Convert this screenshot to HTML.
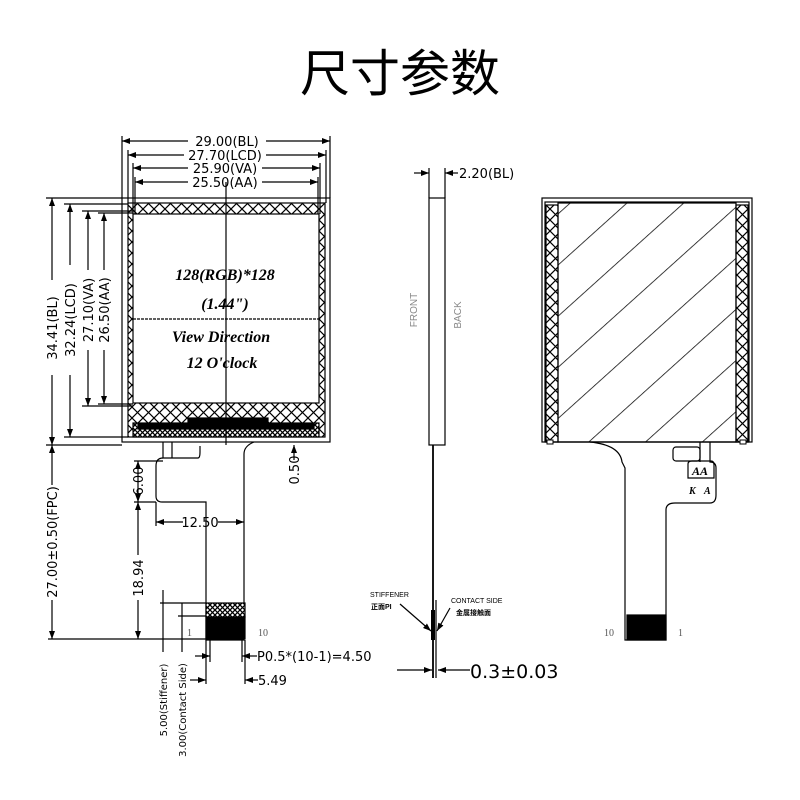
<!DOCTYPE html>
<html><head><meta charset="utf-8"><style>
html,body{margin:0;padding:0;background:#fff;width:800px;height:800px;overflow:hidden}
svg{display:block}
.t{font-family:"DejaVu Sans","Liberation Sans",sans-serif;fill:#000}
.i{font-family:"Liberation Serif",serif;font-style:italic;font-weight:bold;fill:#000}
</style></head><body>
<svg width="800" height="800" viewBox="0 0 800 800" xmlns="http://www.w3.org/2000/svg">
<defs>
<pattern id="x" width="11" height="11" patternUnits="userSpaceOnUse">
<path d="M0 0L11 11M11 0L0 11" stroke="#000" stroke-width="1.2"/></pattern>
<pattern id="xs" width="5" height="5" patternUnits="userSpaceOnUse">
<rect width="5" height="5" fill="#fff"/><path d="M0 0L5 5M5 0L0 5" stroke="#000" stroke-width="1.3"/></pattern>
<pattern id="d" width="38" height="38" patternUnits="userSpaceOnUse" patternTransform="rotate(-42)">
<line x1="0" y1="0" x2="38" y2="0" stroke="#000" stroke-width="1.4"/></pattern>
<marker id="a" markerWidth="8" markerHeight="6" refX="8" refY="3" orient="auto" markerUnits="userSpaceOnUse"><path d="M0 0L8 3L0 6z" fill="#000"/></marker>
<marker id="b" markerWidth="8" markerHeight="6" refX="0" refY="3" orient="auto" markerUnits="userSpaceOnUse"><path d="M8 0L0 3L8 6z" fill="#000"/></marker>
</defs>
<text x="400" y="91" text-anchor="middle" font-family="'Noto Sans CJK SC',sans-serif" font-size="50" font-weight="400">尺寸参数</text>

<g stroke="#000" stroke-width="1.2" fill="none">
<rect x="122" y="198" width="208" height="244"/>
<rect x="128" y="203" width="197" height="234" fill="url(#x)"/>
<rect x="133" y="214" width="186" height="189" fill="#fff"/>
<rect x="133" y="423" width="186" height="14" fill="url(#xs)"/>
<rect x="138" y="424" width="176" height="5" fill="#000"/>
<rect x="188" y="418" width="80" height="4" fill="#000"/>
<line x1="226" y1="182" x2="226" y2="445"/>
<line x1="133" y1="319" x2="319" y2="319" stroke-dasharray="3 1"/>
<line x1="122" y1="136" x2="122" y2="198"/><line x1="330" y1="136" x2="330" y2="198"/>
<line x1="128" y1="150" x2="128" y2="203"/><line x1="326" y1="150" x2="326" y2="203"/>
<line x1="133" y1="163" x2="133" y2="214"/><line x1="320" y1="163" x2="320" y2="214"/>
<line x1="135" y1="177" x2="135" y2="214"/><line x1="318" y1="177" x2="318" y2="214"/>
<line x1="122" y1="141" x2="188" y2="141" marker-start="url(#b)"/><line x1="266" y1="141" x2="330" y2="141" marker-end="url(#a)"/>
<line x1="128" y1="155" x2="184" y2="155" marker-start="url(#b)"/><line x1="266" y1="155" x2="326" y2="155" marker-end="url(#a)"/>
<line x1="133" y1="168" x2="188" y2="168" marker-start="url(#b)"/><line x1="262" y1="168" x2="320" y2="168" marker-end="url(#a)"/>
<line x1="135" y1="182" x2="188" y2="182" marker-start="url(#b)"/><line x1="262" y1="182" x2="318" y2="182" marker-end="url(#a)"/>
<line x1="46" y1="198" x2="122" y2="198"/><line x1="64" y1="204" x2="128" y2="204"/>
<line x1="82" y1="211" x2="133" y2="211"/><line x1="98" y1="213" x2="133" y2="213"/>
<line x1="82" y1="406" x2="133" y2="406"/><line x1="98" y1="404" x2="133" y2="404"/>
<line x1="64" y1="437" x2="128" y2="437"/><line x1="46" y1="445" x2="122" y2="445"/>
<line x1="52" y1="198" x2="52" y2="280" marker-start="url(#b)"/><line x1="52" y1="375" x2="52" y2="445" marker-end="url(#a)"/>
<line x1="70" y1="204" x2="70" y2="265" marker-start="url(#b)"/><line x1="70" y1="375" x2="70" y2="437" marker-end="url(#a)"/>
<line x1="88" y1="211" x2="88" y2="270" marker-start="url(#b)"/><line x1="88" y1="350" x2="88" y2="406" marker-end="url(#a)"/>
<line x1="104" y1="213" x2="104" y2="270" marker-start="url(#b)"/><line x1="104" y1="350" x2="104" y2="404" marker-end="url(#a)"/>
<path d="M163 442V458H198Q200 458 200 452V446" />
<line x1="172" y1="442" x2="172" y2="458"/>
<path d="M163 458Q156 458 156 466V496Q156 502 162 502H206V640H244V454Q244 446 254 442"/>
<rect x="206" y="603" width="39" height="14" fill="url(#xs)"/>
<rect x="206" y="617" width="39" height="22" fill="#000"/>
<line x1="48" y1="639" x2="206" y2="639"/>
<line x1="52" y1="445" x2="52" y2="485" marker-start="url(#b)"/><line x1="52" y1="600" x2="52" y2="639" marker-end="url(#a)"/>
<line x1="134" y1="461" x2="163" y2="461"/>
<line x1="138" y1="461" x2="138" y2="502" marker-start="url(#b)" marker-end="url(#a)"/>
<line x1="134" y1="502" x2="156" y2="502"/>
<line x1="138" y1="502" x2="138" y2="555" marker-start="url(#b)"/><line x1="138" y1="600" x2="138" y2="639" marker-end="url(#a)"/>
<line x1="156" y1="502" x2="156" y2="526"/>
<line x1="156" y1="522" x2="183" y2="522" marker-start="url(#b)"/><line x1="218" y1="522" x2="244" y2="522" marker-end="url(#a)"/>
<line x1="294" y1="445" x2="294" y2="460" marker-start="url(#b)"/>
<line x1="160" y1="603" x2="206" y2="603"/><line x1="178" y1="616" x2="206" y2="616"/>
<line x1="163" y1="590" x2="163" y2="652"/><line x1="182" y1="603" x2="182" y2="652"/>
<line x1="210" y1="640" x2="210" y2="662"/><line x1="242" y1="640" x2="242" y2="662"/>
<line x1="195" y1="656" x2="210" y2="656" marker-end="url(#a)"/><line x1="242" y1="656" x2="257" y2="656" marker-start="url(#b)"/>
<line x1="206" y1="640" x2="206" y2="684"/><line x1="245" y1="640" x2="245" y2="684"/>
<line x1="190" y1="680" x2="206" y2="680" marker-end="url(#a)"/><line x1="245" y1="680" x2="258" y2="680" marker-start="url(#b)"/>
<rect x="429" y="198" width="16" height="247"/>
<line x1="429" y1="168" x2="429" y2="198"/><line x1="445" y1="168" x2="445" y2="198"/>
<line x1="414" y1="173" x2="429" y2="173" marker-end="url(#a)"/><line x1="445" y1="173" x2="458" y2="173" marker-start="url(#b)"/>
<line x1="433" y1="445" x2="433" y2="678" stroke-width="1.8"/>
<line x1="436" y1="600" x2="436" y2="678"/>
<line x1="433" y1="610" x2="433" y2="640" stroke-width="4"/>
<line x1="397" y1="670" x2="432" y2="670" marker-end="url(#a)"/><line x1="438" y1="670" x2="470" y2="670" marker-start="url(#b)"/>
<line x1="400" y1="604" x2="431" y2="631" marker-end="url(#a)"/>
<line x1="450" y1="608" x2="437" y2="631" marker-end="url(#a)"/>
<rect x="542" y="198" width="210" height="244"/>
<rect x="545" y="202" width="204" height="240"/>
<rect x="546" y="205" width="12" height="237" fill="url(#x)"/>
<rect x="736" y="205" width="12" height="237" fill="url(#x)"/>
<rect x="558" y="203" width="178" height="239" fill="url(#d)"/>
<path d="M590 442Q620 445 622 462L625 468V640H666V510Q666 503 675 503H710Q716 503 716 495V468Q716 462 710 462V442"/>
<line x1="700" y1="442" x2="700" y2="462"/>
<rect x="673" y="447" width="27" height="14" rx="3"/>
<path d="M688 478V464Q688 461 692 461H711Q714 461 714 465V478Z"/>
<rect x="627" y="615" width="39" height="25" fill="#000"/>
</g>
<rect x="547" y="440" width="6" height="4" fill="#fff" stroke="#000"/>
<rect x="740" y="440" width="6" height="4" fill="#fff" stroke="#000"/>
<g class="t" font-size="13">
<text x="227" y="146" text-anchor="middle">29.00(BL)</text>
<text x="225" y="160" text-anchor="middle">27.70(LCD)</text>
<text x="225" y="173" text-anchor="middle">25.90(VA)</text>
<text x="225" y="187" text-anchor="middle">25.50(AA)</text>
<text transform="translate(57,328) rotate(-90)" text-anchor="middle">34.41(BL)</text>
<text transform="translate(75,320) rotate(-90)" text-anchor="middle">32.24(LCD)</text>
<text transform="translate(93,310) rotate(-90)" text-anchor="middle">27.10(VA)</text>
<text transform="translate(109,310) rotate(-90)" text-anchor="middle">26.50(AA)</text>
<text transform="translate(57,542) rotate(-90)" text-anchor="middle">27.00±0.50(FPC)</text>
<text transform="translate(143,481) rotate(-90)" text-anchor="middle">6.00</text>
<text transform="translate(143,578) rotate(-90)" text-anchor="middle">18.94</text>
<text transform="translate(299,470) rotate(-90)" text-anchor="middle">0.50</text>
<text x="200" y="527" text-anchor="middle">12.50</text>
<text x="257" y="661">P0.5*(10-1)=4.50</text>
<text x="258" y="685">5.49</text>
<text x="459" y="178">2.20(BL)</text>
</g>
<g class="t" font-size="10">
<text transform="translate(167,700) rotate(-90)" text-anchor="middle">5.00(Stiffener)</text>
<text transform="translate(186,710) rotate(-90)" text-anchor="middle">3.00(Contact Side)</text>
</g>
<text x="470" y="678" class="t" font-size="19">0.3±0.03</text>
<g font-family="'Liberation Sans',sans-serif" font-size="10" fill="#888">
<text transform="translate(417,310) rotate(-90)" text-anchor="middle">FRONT</text>
<text transform="translate(461,315) rotate(-90)" text-anchor="middle">BACK</text>
</g>
<g font-family="'Liberation Sans','Noto Sans CJK SC',sans-serif" font-size="7" fill="#000">
<text x="370" y="597">STIFFENER</text>
<text x="371" y="609" font-weight="bold">正面PI</text>
<text x="451" y="603">CONTACT SIDE</text>
<text x="456" y="615" font-weight="bold">金属接触面</text>
</g>
<g font-family="'Liberation Serif',serif" font-size="10" fill="#555">
<text x="187" y="636">1</text><text x="258" y="636">10</text>
<text x="604" y="636">10</text><text x="678" y="636">1</text>
</g>
<g class="i" font-size="10"><text x="689" y="494">K</text><text x="704" y="494">A</text>
<text x="692" y="475" font-size="12">AA</text></g>
<g class="i" font-size="16" text-anchor="middle">
<text x="225" y="280">128(RGB)*128</text>
<text x="225" y="309">(1.44")</text>
<text x="221" y="342">View Direction</text>
<text x="222" y="368">12  O'clock</text>
</g>
</svg>
</body></html>
